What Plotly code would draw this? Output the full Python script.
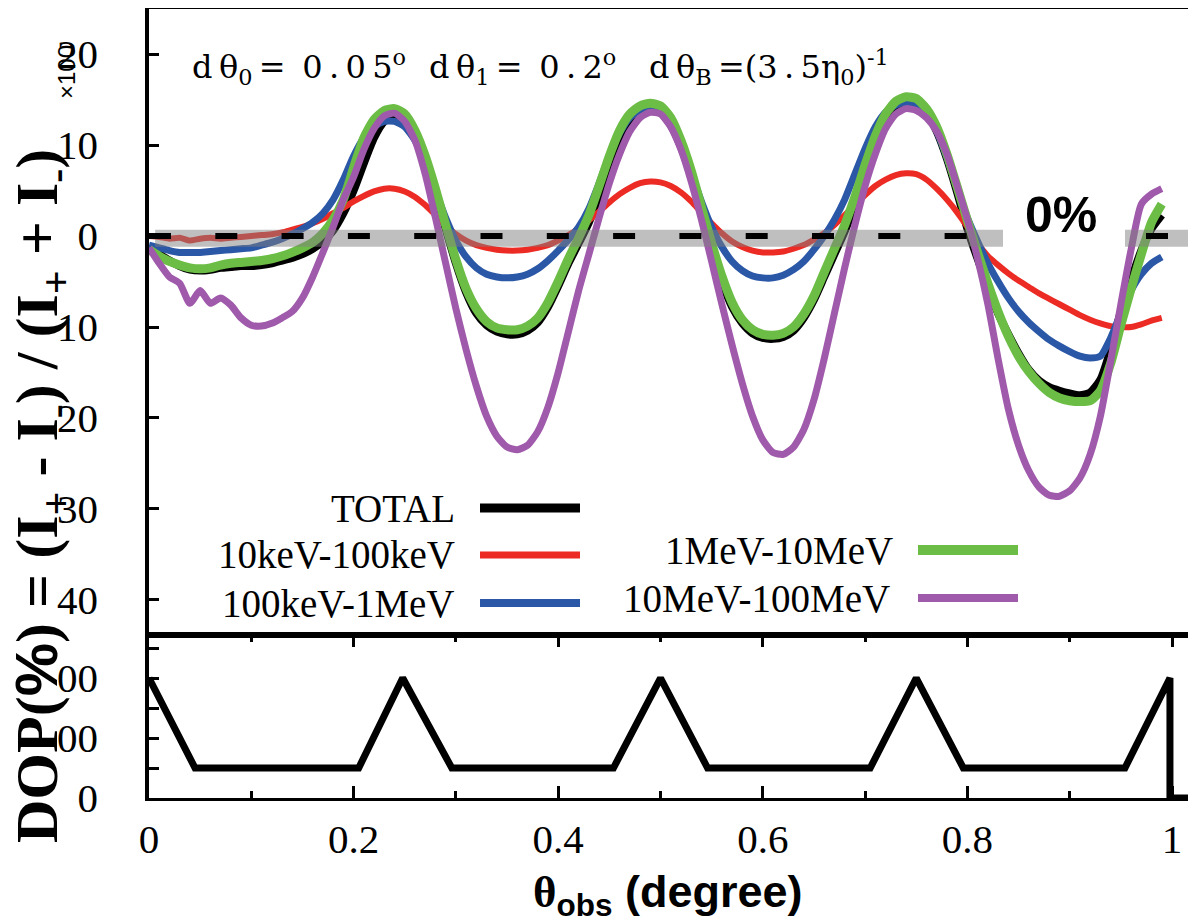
import plotly.graph_objects as go

# ---------------- data ----------------
theta = [round(i * 0.01, 2) for i in range(100)]

dop_total = [
    -1.5, -2.0, -2.7, -3.3, -3.7, -3.8, -3.7, -3.5, -3.4, -3.3,
    -3.3, -3.2, -3.0, -2.7, -2.4, -2.0, -1.4, -0.6, 0.6, 2.5,
    5.0, 8.0, 10.8, 12.6, 13.2, 12.8, 11.2, 8.5, 4.8, 0.8,
    -3.0, -6.2, -8.5, -9.8, -10.5, -10.8, -10.8, -10.4, -9.5, -7.8,
    -5.5, -3.0, -0.8, 1.5, 4.5, 7.8, 10.8, 12.8, 13.8, 14.0,
    13.6, 12.2, 9.8, 6.5, 2.5, -1.5, -5.0, -7.8, -9.6, -10.7,
    -11.2, -11.3, -11.1, -10.4, -9.0, -7.0, -4.5, -2.0, 0.5, 3.5,
    7.0, 10.3, 12.8, 14.2, 14.8, 14.6, 13.5, 11.5, 8.5, 4.8,
    0.8, -2.5, -5.6, -8.5, -10.8, -12.9, -14.7, -15.9, -16.6, -17.0,
    -17.3, -17.5, -17.2, -15.8, -12.5, -8.3, -4.8, -1.6, 0.8, 2.3,
]
dop_10keV_100keV = [
    0.0, -0.1, -0.3, -0.2, -0.5, -0.3, -0.2, -0.3, -0.2, -0.1,
    0.0, 0.1, 0.2, 0.4, 0.7, 1.0, 1.4, 1.9, 2.5, 3.1,
    3.8, 4.4, 4.9, 5.2, 5.2, 4.9, 4.3, 3.4, 2.3, 1.2,
    0.2, -0.5, -1.0, -1.3, -1.5, -1.6, -1.6, -1.5, -1.3, -1.0,
    -0.5, 0.1, 0.8, 1.7, 2.7, 3.7, 4.6, 5.3, 5.8, 6.0,
    5.9, 5.5, 4.8, 3.8, 2.6, 1.4, 0.3, -0.6, -1.2, -1.6,
    -1.8, -1.8, -1.7, -1.4, -1.0, -0.4, 0.3, 1.2, 2.3, 3.4,
    4.5, 5.5, 6.2, 6.7, 6.9, 6.8, 6.2, 5.2, 4.0, 2.6,
    1.0, -0.8, -2.2, -3.2, -4.1, -4.9, -5.6, -6.3, -6.9, -7.5,
    -8.1, -8.7, -9.2, -9.6, -9.9, -10.0, -10.0, -9.7, -9.3, -9.0,
]
dop_100keV_1MeV = [
    -1.0, -1.3, -1.6, -1.8, -1.8, -1.8, -1.7, -1.6, -1.5, -1.4,
    -1.3, -1.0, -0.7, -0.3, 0.2, 0.8, 1.5, 2.5, 4.0, 6.2,
    8.8, 10.8, 12.0, 12.6, 12.6, 12.0, 10.5, 8.0, 5.0, 2.0,
    -0.5, -2.3, -3.5, -4.2, -4.5, -4.6, -4.5, -4.2, -3.6, -2.7,
    -1.6, -0.4, 1.0, 3.0, 5.8, 8.8, 11.3, 13.0, 13.8, 14.0,
    13.6, 12.3, 10.0, 7.0, 3.8, 1.0, -1.2, -2.8, -3.8, -4.4,
    -4.6, -4.6, -4.3, -3.7, -2.8, -1.5, 0.0, 1.8, 4.0, 6.8,
    9.6, 12.0, 13.6, 14.4, 14.7, 14.5, 13.5, 11.5, 8.6, 5.2,
    2.0, -0.6, -3.0, -5.0, -6.8, -8.3, -9.5, -10.5, -11.4, -12.1,
    -12.7, -13.2, -13.4, -13.2, -11.2, -8.5, -6.0, -4.2, -3.0, -2.3,
]
dop_1MeV_10MeV = [
    -1.5, -2.2, -2.8, -3.2, -3.5, -3.6, -3.5, -3.2, -3.0, -2.9,
    -2.8, -2.7, -2.5, -2.2, -1.8, -1.3, -0.7, 0.3, 1.8, 4.0,
    7.5, 10.8, 12.8, 13.8, 14.0, 13.4, 11.6, 8.8, 5.2, 1.2,
    -2.6, -5.8, -8.0, -9.4, -10.1, -10.3, -10.3, -9.9, -9.0, -7.3,
    -5.0, -2.5, -0.2, 2.3, 5.5, 8.8, 11.6, 13.4, 14.3, 14.6,
    14.3, 13.0, 10.5, 7.2, 3.2, -0.8, -4.4, -7.3, -9.2, -10.3,
    -10.8, -10.9, -10.7, -10.0, -8.6, -6.6, -4.0, -1.4, 1.2, 4.3,
    7.8, 11.0, 13.4, 14.8, 15.3, 15.1, 14.0, 12.0, 9.0, 5.4,
    1.7, -1.8, -5.2, -8.3, -11.0, -13.2, -14.9, -16.2, -17.2, -17.8,
    -18.1, -18.2, -18.1, -17.0, -14.0, -9.8, -5.8, -2.0, 1.5, 3.5,
]
dop_10MeV_100MeV = [
    -1.3, -3.0, -4.5, -5.2, -7.4, -6.0, -7.4, -6.8, -7.6, -9.0,
    -9.8, -9.9, -9.6, -9.0, -8.3, -6.8, -4.5, -1.8, 1.0, 4.0,
    6.5, 9.5, 11.8, 13.2, 13.5, 12.6, 10.5, 6.8, 2.0, -3.0,
    -8.0, -12.5, -16.5, -19.8, -22.0, -23.2, -23.5, -23.0, -21.5, -18.8,
    -15.0, -10.5, -6.0, -2.0, 2.0, 5.8, 9.0, 11.5, 13.0, 13.6,
    13.4, 12.0, 9.5, 6.0, 1.8, -2.8, -7.5, -12.0, -16.2, -19.8,
    -22.4, -23.8, -24.0, -23.2, -21.3, -18.0, -13.5, -8.5, -3.5, 1.2,
    5.5, 9.0, 11.8, 13.4, 14.0, 13.8, 13.0, 11.5, 9.0, 5.5,
    1.8, -2.5, -7.5, -13.5, -19.0, -23.0, -25.8, -27.6, -28.5, -28.6,
    -28.0, -26.6, -24.0, -19.8, -13.8, -7.5, -1.5, 3.5, 4.6, 5.2,
]

series_names = ["TOTAL", "10keV-100keV", "100keV-1MeV", "1MeV-10MeV", "10MeV-100MeV"]

lower_x = [0.0, 0.045, 0.205, 0.248, 0.296, 0.454, 0.5, 0.546, 0.705, 0.75,
           0.796, 0.954, 0.998, 0.998, 1.04]
lower_y = [200, 50, 50, 200, 50, 50, 200, 50, 50, 200, 50, 50, 200, 0, 0]

x_tickvals = [0, 0.2, 0.4, 0.6, 0.8, 1.0]
x_ticktext = ["0", "0.2", "0.4", "0.6", "0.8", "1"]
y_tickvals = [-40, -30, -20, -10, 0, 10, 20]
y_ticktext = ["40", "30", "20", "10", "0", "10", "20"]
y2_tickvals = [0, 50, 100, 150, 200, 250]
y2_ticktext = ["0", "", "00", "", "00", ""]

# ---------------- layout geometry ----------------
# the page body adds an 8 px offset; positions below are in screen pixels
OFF = 8
W, H = 1196, 923
L, R, T, B = 149 - OFF, 0, 9 - OFF, H - (798 - OFF)
PW, PH = W - L - R, H - T - B
XR = [0, PW / 1023.0]
SPLIT = (798 - 635) / PH


def px(xs):
    return (xs - 149) / PW


def py(ys):
    return (798 - ys) / PH


SERIF = "Liberation Serif"
SANS = "Liberation Sans"

colors = {
    "TOTAL": "#000000",
    "10keV-100keV": "#ec2b25",
    "100keV-1MeV": "#2b57a7",
    "1MeV-10MeV": "#6cbd45",
    "10MeV-100MeV": "#a05aab",
}
widths = {"TOTAL": 8, "10keV-100keV": 6, "100keV-1MeV": 7, "1MeV-10MeV": 9, "10MeV-100MeV": 7}
values = {
    "TOTAL": dop_total,
    "10keV-100keV": dop_10keV_100keV,
    "100keV-1MeV": dop_100keV_1MeV,
    "1MeV-10MeV": dop_1MeV_10MeV,
    "10MeV-100MeV": dop_10MeV_100MeV,
}

fig = go.Figure()
for name in series_names:
    fig.add_trace(go.Scatter(
        x=theta, y=values[name], mode="lines", name=name,
        line=dict(color=colors[name], width=widths[name], shape="spline", smoothing=0.6),
        xaxis="x2", yaxis="y", showlegend=False,
    ))

fig.add_trace(go.Scatter(
    x=lower_x, y=lower_y, mode="lines", line=dict(color="black", width=7),
    xaxis="x", yaxis="y2", showlegend=False,
))
# helpers so the right-hand tick axes get drawn
fig.add_trace(go.Scatter(x=[None], y=[None], xaxis="x2", yaxis="y3", showlegend=False))
fig.add_trace(go.Scatter(x=[None], y=[None], xaxis="x", yaxis="y4", showlegend=False))


def tfont():
    return dict(family=SERIF, size=41, color="black")


fig.update_layout(
    template="none",
    width=W, height=H,
    font=dict(family=SERIF, size=20, color="black"),
    margin=dict(l=L, r=R, t=T, b=B, pad=0, autoexpand=False),
    paper_bgcolor="white", plot_bgcolor="white",
    xaxis=dict(domain=[0, 1], anchor="y2", range=XR, showline=True, linewidth=3,
               linecolor="black", mirror="ticks", ticks="inside", ticklen=12, tickwidth=3,
               tickcolor="black", tickvals=x_tickvals, ticktext=x_ticktext, tickfont=tfont(),
               minor=dict(tickvals=[0.1, 0.3, 0.5, 0.7, 0.9], ticks="inside", ticklen=7,
                          tickwidth=3, tickcolor="black", showgrid=False),
               showgrid=False, zeroline=False, ticklabelstandoff=3, automargin=False),
    xaxis2=dict(domain=[0, 1], anchor="y", matches="x", range=XR, showline=True,
                linewidth=3, linecolor="black", mirror=True, ticks="",
                showticklabels=False, showgrid=False, zeroline=False, automargin=False),
    yaxis=dict(domain=[SPLIT, 1], anchor="x2", range=[-43.85, 24.95], showline=True,
               linewidth=3.5, linecolor="black", ticks="inside", ticklen=10, tickwidth=3,
               tickcolor="black", tickvals=y_tickvals, ticktext=y_ticktext, tickfont=tfont(),
               showgrid=False, zeroline=False, ticklabelstandoff=39, automargin=False),
    yaxis2=dict(domain=[0, SPLIT], anchor="x", range=[0, 271.7], showline=True,
                linewidth=3.5, linecolor="black", ticks="inside", ticklen=10, tickwidth=3,
                tickcolor="black", tickvals=y2_tickvals, ticktext=y2_ticktext, tickfont=tfont(),
                showgrid=False, zeroline=False, ticklabelstandoff=39, automargin=False),
    yaxis3=dict(overlaying="y", side="right", anchor="x2", range=[-43.85, 24.95],
                showline=False, ticks="inside", ticklen=12, tickwidth=3, tickcolor="black",
                tickvals=y_tickvals, showticklabels=False, showgrid=False, zeroline=False,
                automargin=False),
    yaxis4=dict(overlaying="y2", side="right", anchor="x", range=[0, 271.7],
                showline=False, ticks="inside", ticklen=12, tickwidth=3, tickcolor="black",
                tickvals=y2_tickvals, showticklabels=False, showgrid=False, zeroline=False,
                automargin=False),
)

shapes = []
x_band1_end = (1003 - 149) / 1023.0
x_band2_start = (1125 - 149) / 1023.0
x_dash2_start = (1146 - 149) / 1023.0
# translucent gray band (over curves)
for xa, xb in [(0.006, x_band1_end), (x_band2_start, XR[1])]:
    shapes.append(dict(type="line", xref="x2", yref="y", x0=xa, x1=xb, y0=-0.25, y1=-0.25,
                       layer="above", line=dict(color="rgba(128,128,128,0.5)", width=17)))
# dashed zero reference line
for xa, xb in [(0, x_band1_end), (x_dash2_start, XR[1])]:
    shapes.append(dict(type="line", xref="x2", yref="y", x0=xa, x1=xb, y0=0, y1=0,
                       layer="above", line=dict(color="black", width=6, dash="22px,44.3px")))

# manual legend
legend_rows = [
    ("TOTAL", 457, 508, 480, 580),
    ("10keV-100keV", 457, 555, 480, 580),
    ("100keV-1MeV", 457, 603, 480, 580),
    ("1MeV-10MeV", 895, 550, 918, 1018),
    ("10MeV-100MeV", 892, 598, 918, 1018),
]
annotations = []
for name, tx, ty, lx0, lx1 in legend_rows:
    shapes.append(dict(type="line", xref="paper", yref="paper", x0=px(lx0), x1=px(lx1),
                       y0=py(ty), y1=py(ty), layer="above",
                       line=dict(color=colors[name], width=widths[name] + 1)))
    annotations.append(dict(text=name, xref="paper", yref="paper", x=px(tx), y=py(ty),
                            xanchor="right", yanchor="middle", showarrow=False,
                            font=dict(family=SERIF, size=39, color="black")))

fig.update_layout(shapes=shapes)

# top parameter text (letter-spaced to match the wide original)
S = "\u2009"
top_parts = [
    ("d" + S + "θ<sub>0</sub>" + S + "=" + S + " 0" + S + "." + S + "0" + S + "5<sup>o</sup>", 190),
    ("d" + S + "θ<sub>1</sub>" + S + "=" + S + " 0" + S + "." + S + "2<sup>o</sup>", 427),
    ("d" + S + "θ<sub>B</sub>" + S + "=(3" + S + "." + S + "5η<sub>0</sub>)<sup>-1</sup>", 647),
]
for txt, x0 in top_parts:
    annotations.append(dict(text=txt, xref="paper", yref="paper", x=px(x0), y=py(67),
                            xanchor="left", yanchor="middle", showarrow=False,
                            font=dict(family="DejaVu Serif", size=32, color="black")))

annotations.append(dict(text="<b>0%</b>", xref="paper", yref="paper", x=px(1061), y=py(215),
                        xanchor="center", yanchor="middle", showarrow=False,
                        font=dict(family=SANS, size=50, color="black")))

# y-axis title
annotations.append(dict(
    text="<b>DOP(<span style='font-family:Liberation Sans'>%</span>) = (I<sub>+</sub> - I<sub>-</sub>) / (I<sub>+</sub> + I<sub>-</sub>)</b>",
    xref="paper", yref="paper", x=px(41), y=py(496), xanchor="center", yanchor="middle",
    textangle=-90, showarrow=False, font=dict(family=SERIF, size=60, color="black")))
annotations.append(dict(text="×100", xref="paper", yref="paper", x=px(66), y=py(72),
                        xanchor="center", yanchor="middle", textangle=-90, showarrow=False,
                        font=dict(family=SANS, size=24, color="black")))

# x-axis title
annotations.append(dict(
    text="<b><span style='font-family:Liberation Serif'>θ</span><sub>obs</sub> (degree)</b>",
    xref="paper", yref="paper", x=px(668), y=py(894), xanchor="center", yanchor="middle",
    showarrow=False, font=dict(family=SANS, size=45, color="black")))

fig.update_layout(annotations=annotations)

fig.write_html("out.html")
